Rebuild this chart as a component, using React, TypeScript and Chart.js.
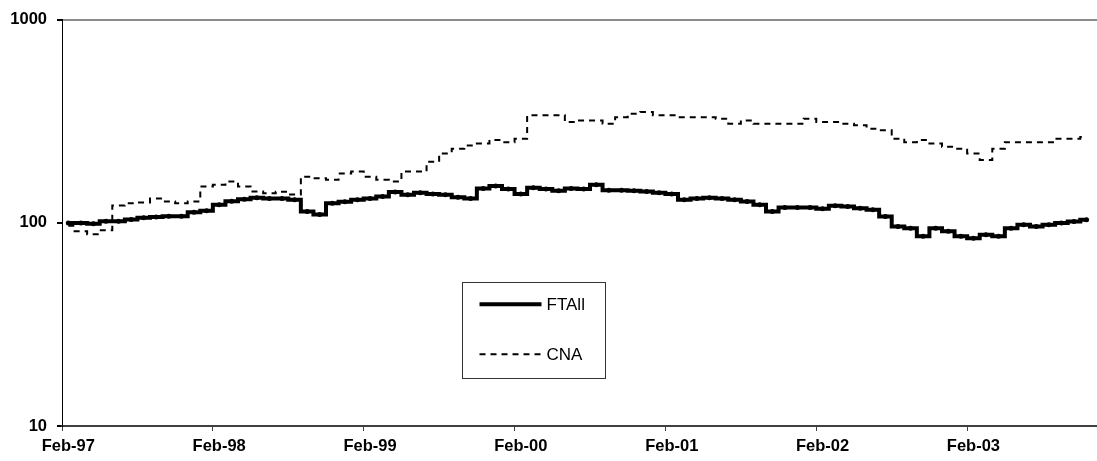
import { useEffect, useRef } from "react";
import { Chart, registerables } from "chart.js";

Chart.register(...registerables);

// Monthly index levels, first value = Feb-97 (rebased to 100)
const FTALL = [
  100, 100, 99, 102, 102, 104, 106, 107, 108, 108, 113, 115,
  123, 128, 131, 133, 132, 132, 130, 114, 110, 125, 127, 130,
  132, 135, 142, 137.5, 141, 139, 137.5, 134, 132, 148, 152, 147,
  139, 149, 147, 144, 148, 147, 154, 145, 145, 144, 143, 141,
  139, 130, 132, 133, 132, 130, 127.5, 123, 114, 119, 119, 119,
  117.5, 121.5, 120.5, 118, 116, 107.6, 96, 94.3, 86, 94.3, 91, 86,
  84, 87.5, 86, 94.3, 98, 96, 98, 100, 101.7, 103.7,
];

const CNA = [
  97, 91, 88, 92, 122, 125, 126, 132, 127.5, 125, 127.5, 151,
  154, 160, 151, 143, 140, 142.6, 138, 169, 166, 163, 175, 179,
  169, 163, 160, 179, 179, 200, 220, 232, 241, 246, 256, 250,
  260, 339, 339, 339, 314, 320, 320, 308, 332, 345, 352, 339,
  339, 332, 332, 332, 326, 308, 320, 308, 308, 308, 308, 326,
  314, 314, 308, 303, 291, 286, 260, 250, 256, 246, 237, 232,
  220, 204, 232, 250, 250, 250, 250, 260, 260, 265,
];

const SERIES_NAMES = ["FTAll", "CNA"];
const X_TICK_LABELS = ["Feb-97", "Feb-98", "Feb-99", "Feb-00", "Feb-01", "Feb-02", "Feb-03"];
const Y_TICKS = [10, 100, 1000];

const FONT = '"Liberation Sans", Arial, sans-serif';

// Each month occupies one slot; points sit in the middle of their slot.
const toPoints = (values: number[]) => values.map((v, i) => ({ x: i + 0.5, y: v }));

// Boxed legend drawn inside the plot area
const boxLegend = {
  id: "boxLegend",
  afterDraw(chart: any) {
    const { ctx, chartArea } = chart;
    const w = chartArea.right - chartArea.left;
    const h = chartArea.bottom - chartArea.top;
    const left = chartArea.left + w * 0.386;
    const right = chartArea.left + w * 0.5237;
    const top = chartArea.top + h * 0.645;
    const bottom = chartArea.top + h * 0.881;
    ctx.save();
    ctx.fillStyle = "#ffffff";
    ctx.fillRect(left, top, right - left, bottom - top);
    ctx.strokeStyle = "#333333";
    ctx.lineWidth = 1;
    ctx.strokeRect(Math.round(left) + 0.5, Math.round(top) + 0.5, Math.round(right - left), Math.round(bottom - top));
    const rows = [top + (bottom - top) * 0.235, top + (bottom - top) * 0.755];
    chart.data.datasets.forEach((ds: any, i: number) => {
      const y = rows[i];
      ctx.strokeStyle = ds.borderColor;
      ctx.lineWidth = ds.borderWidth;
      ctx.setLineDash(ds.borderDash || []);
      ctx.beginPath();
      ctx.moveTo(left + 18, y);
      ctx.lineTo(left + 80, y);
      ctx.stroke();
      ctx.setLineDash([]);
      ctx.fillStyle = "#000000";
      ctx.font = `17px ${FONT}`;
      ctx.textBaseline = "middle";
      ctx.fillText(ds.label, left + 85, y + 1);
    });
    ctx.restore();
  },
};

export default function App() {
  const canvasRef = useRef<HTMLCanvasElement | null>(null);

  useEffect(() => {
    if (!canvasRef.current) return;
    const chart = new Chart(canvasRef.current, {
      type: "line",
      data: {
        datasets: [
          {
            label: SERIES_NAMES[0],
            data: toPoints(FTALL),
            borderColor: "#000000",
            backgroundColor: "#000000",
            borderWidth: 4,
            stepped: "middle",
            pointRadius: 2.5,
            pointBorderWidth: 0,
            pointBackgroundColor: "#000000",
          },
          {
            label: SERIES_NAMES[1],
            data: toPoints(CNA),
            borderColor: "#000000",
            backgroundColor: "#000000",
            borderWidth: 2,
            borderDash: [6, 5],
            stepped: "middle",
            pointRadius: 0,
          },
        ],
      },
      options: {
        animation: false,
        responsive: true,
        maintainAspectRatio: false,
        layout: { autoPadding: false, padding: { top: 16, right: 0, left: 0, bottom: 0 } },
        plugins: {
          legend: { display: false },
          tooltip: { enabled: false },
        },
        scales: {
          x: {
            type: "linear",
            min: 0,
            max: 82.33,
            afterBuildTicks: (scale: any) => {
              scale.ticks = X_TICK_LABELS.map((_, i) => ({ value: i * 12 }));
            },
            afterFit: (scale: any) => {
              scale.height = 35;
            },
            border: { display: true, color: "#404040", width: 2 },
            grid: {
              display: true,
              drawOnChartArea: false,
              drawTicks: true,
              tickLength: 5,
              tickColor: "#404040",
            },
            ticks: {
              autoSkip: false,
              maxRotation: 0,
              padding: 6,
              labelOffset: 6.3,
              color: "#000000",
              font: { family: FONT, size: 16.5, weight: "bold" },
              callback: (v: any) => X_TICK_LABELS[Math.round(Number(v) / 12)] ?? "",
            },
          },
          y: {
            type: "logarithmic",
            min: 10,
            max: 1000,
            afterBuildTicks: (scale: any) => {
              scale.ticks = Y_TICKS.map((v) => ({ value: v }));
            },
            afterFit: (scale: any) => {
              scale.width = 62;
            },
            border: { display: true, color: "#000000", width: 1 },
            grid: {
              display: true,
              drawTicks: true,
              tickLength: 5,
              tickColor: "#000000",
              lineWidth: 2,
              color: (c: any) => (c.tick && c.tick.value === 1000 ? "#8c8c8c" : "rgba(0,0,0,0)"),
            },
            ticks: {
              padding: 10,
              color: "#000000",
              font: { family: FONT, size: 16.5, weight: "bold" },
              callback: (v: any) => String(v),
            },
          },
        },
      },
      plugins: [boxLegend],
    });
    return () => chart.destroy();
  }, []);

  return (
    <div style={{ position: "fixed", left: 0, top: 0, width: 1097, height: 461, background: "#ffffff" }}>
      <canvas ref={canvasRef} />
    </div>
  );
}
